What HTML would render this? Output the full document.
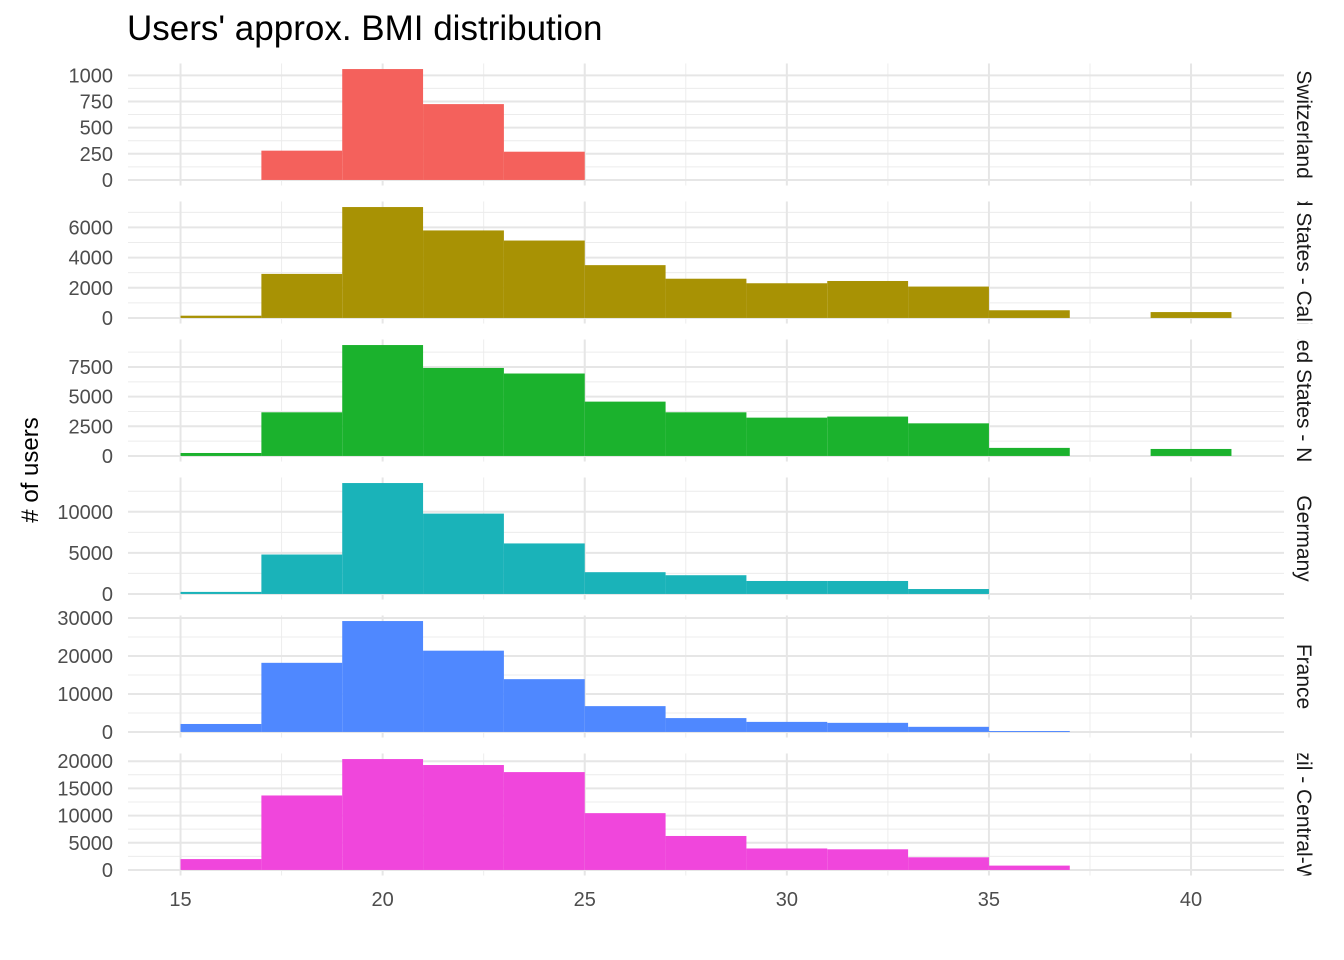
<!DOCTYPE html>
<html><head><meta charset="utf-8"><style>
body{margin:0;background:#fff;}
svg{display:block;font-family:"Liberation Sans",Arial,sans-serif;}
</style></head><body>
<svg id="chart" width="1344" height="960" xmlns="http://www.w3.org/2000/svg">
<text x="127" y="40" font-size="35" fill="#000">Users' approx. BMI distribution</text>
<text transform="translate(38,470) rotate(-90)" text-anchor="middle" font-size="24" fill="#000"># of users</text>
<g id="panels"></g>
</svg>
<script>
const binStarts = [15,17,19,21,23,25,27,29,31,33,35,37,39];
const panelNames = ["Switzerland","United States - California","United States - North","Germany","France","Brazil - Central-West"];
const switzerland = [0,280,1060,725,270];
const usCalifornia = [150,2920,7350,5800,5130,3500,2600,2300,2450,2080,510,0,390];
const usNorth = [250,3680,9350,7420,6950,4580,3680,3230,3320,2750,680,0,590];
const germany = [250,4800,13500,9780,6150,2650,2280,1580,1580,600];
const france = [2100,18200,29200,21400,13900,6800,3650,2650,2400,1350,250];
const brazil = [2000,13700,20400,19300,18000,10450,6250,3950,3800,2330,800];
const seriesList = [switzerland,usCalifornia,usNorth,germany,france,brazil];
const yTicks = [[0,250,500,750,1000],[0,2000,4000,6000],[0,2500,5000,7500],[0,5000,10000],[0,10000,20000,30000],[0,5000,10000,15000,20000]];
const colors = ["#F4615C","#A89204","#1BB22D","#1AB3B9","#4F88FF","#F046DC"];
const xTicks = [15,20,25,30,35,40];

const NS="http://www.w3.org/2000/svg";
const L=128,R=1284,xmin=13.7,xmax=42.3;
const xs=v=>L+(v-xmin)/(xmax-xmin)*(R-L);
const root=document.getElementById('panels');
function mk(tag,attrs,parent){const e=document.createElementNS(NS,tag);for(const k in attrs)e.setAttribute(k,attrs[k]);(parent||root).appendChild(e);return e;}
const defs=mk('defs',{});
seriesList.forEach((data,i)=>{
  const top=63.5+138*i,H=122,bot=top+H;
  const mx=Math.max(...data);
  const ys=v=>bot-(v+0.05*mx)/(1.1*mx)*H;
  const g=mk('g',{});
  
  
  for(let v=17.5;v<=42;v+=5){mk('line',{x1:xs(v),x2:xs(v),y1:top,y2:bot,stroke:'#ececec','stroke-width':1},g);}
  const tk=yTicks[i];
  for(let k=0;k<tk.length-1;k++){const m=(tk[k]+tk[k+1])/2;mk('line',{x1:L,x2:R,y1:ys(m),y2:ys(m),stroke:'#ececec','stroke-width':1},g);}
  const step=tk[1]-tk[0];const last=tk[tk.length-1]+step/2;
  if(ys(last)>top)mk('line',{x1:L,x2:R,y1:ys(last),y2:ys(last),stroke:'#ececec','stroke-width':1},g);
  xTicks.forEach(v=>mk('line',{x1:xs(v),x2:xs(v),y1:top,y2:bot,stroke:'#e6e6e6','stroke-width':2},g));
  tk.forEach(v=>{
    mk('line',{x1:L,x2:R,y1:ys(v),y2:ys(v),stroke:'#e6e6e6','stroke-width':2},g);
    const t=mk('text',{x:113,y:ys(v)+7,'text-anchor':'end','font-size':'20',fill:'#4d4d4d'},g);
    
    
    t.textContent=v;
  });
  data.forEach((v,j)=>{
    if(v<=0)return;
    const x0=binStarts[j];
    const r=mk('rect',{x:xs(x0),y:ys(v),width:xs(x0+2)-xs(x0),height:ys(0)-ys(v),fill:colors[i]},g);
    
    
  });
  const cp=mk('clipPath',{id:'clip'+i},defs);
  mk('rect',{x:1288,y:top,width:40,height:H},cp);
  const sg=mk('g',{'clip-path':`url(#clip${i})`},g);
  const st=mk('text',{transform:`translate(1297,${top+H/2}) rotate(90)`,'text-anchor':'middle','font-size':'21',fill:'#1a1a1a'},sg);
  
  
  st.textContent=panelNames[i];
});
xTicks.forEach(v=>{
  const t=mk('text',{x:xs(v),y:906,'text-anchor':'middle','font-size':'20',fill:'#4d4d4d'});
  
  
  t.textContent=v;
});
</script>
</body></html>
